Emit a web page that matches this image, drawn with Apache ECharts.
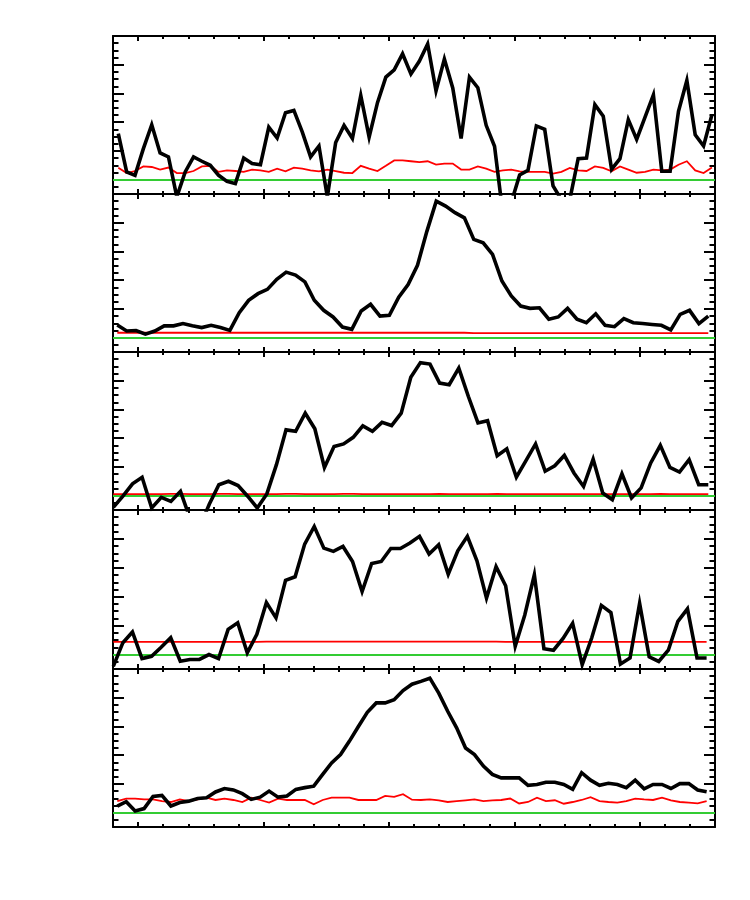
<!DOCTYPE html>
<html><head><meta charset="utf-8">
<script src="https://cdn.jsdelivr.net/npm/echarts@6/dist/echarts.min.js"></script>
<style>html,body{margin:0;padding:0;background:#fff}#c{width:750px;height:900px}</style>
</head><body><div id="c"></div>
<script>
// tick positions (x in minor-tick units, y in major units)
const xMajorTicks = [1, 6, 11, 16, 21];
const yMajorTicks = [0, 1, 2, 3, 4, 5];

// sample grid of each panel: start time and cadence (x units)
const panelStart = [0.211, 0.171, 0.012, 0.012, 0.171];
const panelStep  = [1/3, 0.374, 0.3826, 0.3815, 0.356];

const black1 = [1.6,0.27,0.15,1.08,1.91,0.93,0.79,-0.6,0.27,0.79,
  0.64,0.5,0.15,-0.06,-0.14,0.75,0.56,0.52,1.83,1.45,
  2.33,2.41,1.66,0.79,1.17,-0.6,1.29,1.89,1.43,2.93,
  1.48,2.68,3.57,3.82,4.38,3.68,4.12,4.72,3.09,4.2,
  3.19,1.43,3.57,3.2,1.89,1.16,-1.2,-0.8,0.16,0.32,
  1.87,1.75,-0.22,-0.7,-0.7,0.73,0.75,2.61,2.21,0.36,
  0.73,2.09,1.4,2.18,2.95,0.29,0.29,2.38,3.45,1.56,
  1.17,2.26];
const red1 = [0.41,0.23,0.3,0.46,0.44,0.35,0.42,0.23,0.23,0.3,
  0.46,0.48,0.27,0.32,0.3,0.27,0.35,0.32,0.27,0.38,
  0.29,0.42,0.38,0.32,0.29,0.35,0.3,0.24,0.23,0.48,
  0.38,0.3,0.48,0.67,0.67,0.64,0.61,0.64,0.52,0.56,
  0.56,0.35,0.35,0.46,0.38,0.27,0.32,0.35,0.29,0.27,
  0.27,0.27,0.21,0.27,0.41,0.32,0.3,0.46,0.41,0.29,
  0.46,0.35,0.24,0.27,0.35,0.32,0.35,0.52,0.64,0.32,
  0.23,0.42];

const black2 = [0.44,0.23,0.25,0.12,0.23,0.41,0.41,0.49,0.41,0.35,
  0.43,0.35,0.25,0.87,1.3,1.53,1.68,2.03,2.28,2.18,
  1.94,1.3,0.95,0.72,0.37,0.29,0.93,1.16,0.75,0.78,
  1.41,1.85,2.52,3.7,4.75,4.58,4.35,4.17,3.42,3.3,
  2.9,1.97,1.45,1.1,1.02,1.04,0.64,0.72,1.02,0.64,
  0.52,0.83,0.43,0.38,0.66,0.52,0.49,0.46,0.43,0.27,
  0.81,0.95,0.49,0.75];
const red2 = [0.17,0.17,0.17,0.17,0.17,0.17,0.17,0.17,0.17,0.17,
  0.17,0.17,0.17,0.17,0.17,0.17,0.17,0.17,0.17,0.17,
  0.17,0.17,0.17,0.17,0.17,0.17,0.17,0.17,0.17,0.17,
  0.17,0.17,0.17,0.17,0.17,0.17,0.17,0.17,0.16,0.16,
  0.16,0.16,0.16,0.16,0.16,0.16,0.16,0.16,0.16,0.16,
  0.16,0.16,0.16,0.16,0.16,0.16,0.16,0.16,0.16,0.16,
  0.16,0.16,0.16,0.16];

const black3 = [-0.41,-0.02,0.41,0.64,-0.43,-0.06,-0.2,0.15,-0.8,-1.1,
  -0.3,0.38,0.5,0.35,-0.02,-0.43,0.06,1.08,2.29,2.24,
  2.87,2.33,0.98,1.71,1.8,2.03,2.43,2.24,2.55,2.44,
  2.87,4.12,4.63,4.58,3.92,3.86,4.44,3.45,2.53,2.61,
  1.39,1.63,0.64,1.22,1.8,0.85,1.04,1.4,0.79,0.32,
  1.27,0.09,-0.14,0.76,-0.08,0.27,1.14,1.75,0.98,0.82,
  1.25,0.38,0.38];
const red3 = [0.05,0.05,0.05,0.05,0.05,0.05,0.06,0.06,0.05,0.05,
  0.05,0.06,0.06,0.05,0.05,0.05,0.05,0.05,0.06,0.06,
  0.05,0.05,0.05,0.05,0.06,0.06,0.05,0.05,0.05,0.05,
  0.05,0.05,0.05,0.05,0.06,0.05,0.05,0.05,0.05,0.05,
  0.06,0.05,0.05,0.05,0.05,0.05,0.05,0.05,0.05,0.05,
  0.05,0.05,0.05,0.05,0.05,0.05,0.05,0.06,0.05,0.05,
  0.05,0.05,0.05];

const black4 = [-0.41,0.41,0.78,-0.14,-0.06,0.25,0.58,-0.23,-0.17,-0.17,
  0,-0.14,0.87,1.1,0.06,0.7,1.8,1.27,2.57,2.69,
  3.82,4.43,3.68,3.57,3.74,3.22,2.18,3.15,3.22,3.67,
  3.67,3.86,4.09,3.48,3.8,2.78,3.59,4.09,3.24,1.95,
  3.04,2.38,0.29,1.37,2.76,0.2,0.15,0.56,1.08,-0.35,
  0.58,1.7,1.45,-0.33,-0.12,1.77,-0.08,-0.24,0.15,1.15,
  1.58,-0.12,-0.12];
const red4 = [0.44,0.44,0.44,0.44,0.44,0.44,0.44,0.44,0.44,0.44,
  0.44,0.44,0.44,0.44,0.44,0.44,0.45,0.45,0.45,0.45,
  0.45,0.45,0.45,0.45,0.45,0.45,0.45,0.45,0.45,0.45,
  0.45,0.45,0.45,0.45,0.45,0.45,0.45,0.45,0.45,0.45,
  0.45,0.44,0.44,0.44,0.44,0.44,0.44,0.44,0.44,0.44,
  0.44,0.44,0.44,0.44,0.44,0.44,0.44,0.44,0.44,0.44,
  0.44,0.44,0.44];

const black5 = [0.23,0.38,0.06,0.14,0.56,0.6,0.23,0.35,0.4,0.49,
  0.52,0.72,0.84,0.79,0.66,0.46,0.54,0.75,0.54,0.58,
  0.81,0.87,0.92,1.33,1.73,2.02,2.49,3.0,3.49,3.82,
  3.82,3.93,4.25,4.47,4.57,4.68,4.16,3.53,2.95,2.25,
  2.02,1.62,1.33,1.21,1.21,1.21,0.95,0.98,1.06,1.06,
  0.98,0.81,1.39,1.13,0.95,1.02,0.98,0.87,1.13,0.83,
  0.98,0.98,0.84,1.01,1.01,0.79,0.73];
const red5 = [0.40,0.49,0.49,0.46,0.46,0.40,0.37,0.46,0.40,0.46,
  0.52,0.44,0.49,0.44,0.37,0.52,0.44,0.35,0.49,0.44,
  0.44,0.44,0.29,0.44,0.52,0.52,0.52,0.44,0.44,0.44,
  0.58,0.55,0.64,0.45,0.44,0.46,0.43,0.37,0.40,0.43,
  0.46,0.40,0.43,0.44,0.49,0.32,0.37,0.52,0.40,0.43,
  0.31,0.37,0.44,0.54,0.40,0.37,0.35,0.40,0.49,0.46,
  0.44,0.52,0.43,0.37,0.35,0.32,0.40];

const blackSeries = [black1, black2, black3, black4, black5];
const redSeries = [red1, red2, red3, red4, red5];
const zeroLevel = 0;

const gridTops = [36, 194, 352, 510, 669];
const gridHeights = [158, 158, 158, 159, 158];
const X_MIN = 0, X_MAX = 24, Y_MIN = -0.5, Y_MAX = 5;

function pairs(p, vals) {
  return vals.map((v, i) => [panelStart[p] + panelStep[p] * i, v]);
}

const grid = [], xAxis = [], yAxis = [], series = [];
const frame = { color: '#000', width: 2 };
for (let p = 0; p < 5; p++) {
  grid.push({ left: 113, width: 602, top: gridTops[p], height: gridHeights[p],
    containLabel: false, outerBoundsMode: 'none' });
  const xi = xAxis.length, yi = yAxis.length;
  ['bottom', 'top'].forEach(pos => {
    xAxis.push({ gridIndex: p, type: 'value', position: pos, min: X_MIN, max: X_MAX,
      axisLine: { show: true, onZero: false, lineStyle: frame },
      axisTick: { show: true, inside: true, length: 5, customValues: xMajorTicks, lineStyle: { color: '#000', width: 2 } },
      axisLabel: { show: false }, splitLine: { show: false } });
    xAxis.push({ gridIndex: p, type: 'value', position: pos, min: X_MIN, max: X_MAX, interval: 1,
      axisLine: { show: false, onZero: false },
      axisTick: { show: true, inside: true, length: 3, lineStyle: { color: '#000', width: 2 } },
      axisLabel: { show: false }, splitLine: { show: false } });
  });
  ['left', 'right'].forEach(pos => {
    yAxis.push({ gridIndex: p, type: 'value', position: pos, min: Y_MIN, max: Y_MAX,
      axisLine: { show: true, onZero: false, lineStyle: frame },
      axisTick: { show: true, inside: true, length: 11, customValues: yMajorTicks, lineStyle: { color: '#000', width: 2 } },
      axisLabel: { show: false }, splitLine: { show: false } });
    yAxis.push({ gridIndex: p, type: 'value', position: pos, min: Y_MIN, max: Y_MAX, interval: 0.25,
      axisLine: { show: false, onZero: false },
      axisTick: { show: true, inside: true, length: 5.5, lineStyle: { color: '#000', width: 2 } },
      axisLabel: { show: false }, splitLine: { show: false } });
  });
  series.push({ type: 'line', xAxisIndex: xi, yAxisIndex: yi, data: pairs(p, redSeries[p]),
    showSymbol: false, symbol: 'none', z: 3, clip: true, animation: false,
    lineStyle: { color: '#ff0000', width: 1.8, join: 'miter' },
    markLine: { silent: true, symbol: ['none', 'none'], label: { show: false }, animation: false,
      lineStyle: { color: '#33cc33', width: 2, type: 'solid' }, data: [{ yAxis: zeroLevel }] } });
  series.push({ type: 'line', xAxisIndex: xi, yAxisIndex: yi, data: pairs(p, blackSeries[p]),
    showSymbol: false, symbol: 'none', z: 5, clip: true, animation: false,
    lineStyle: { color: '#000000', width: 3.6, join: 'miter', miterLimit: 6 } });
}

const chart = echarts.init(document.getElementById('c'), null, { renderer: 'canvas' });
chart.setOption({ backgroundColor: '#ffffff', animation: false, grid, xAxis, yAxis, series });
</script>
</body></html>
